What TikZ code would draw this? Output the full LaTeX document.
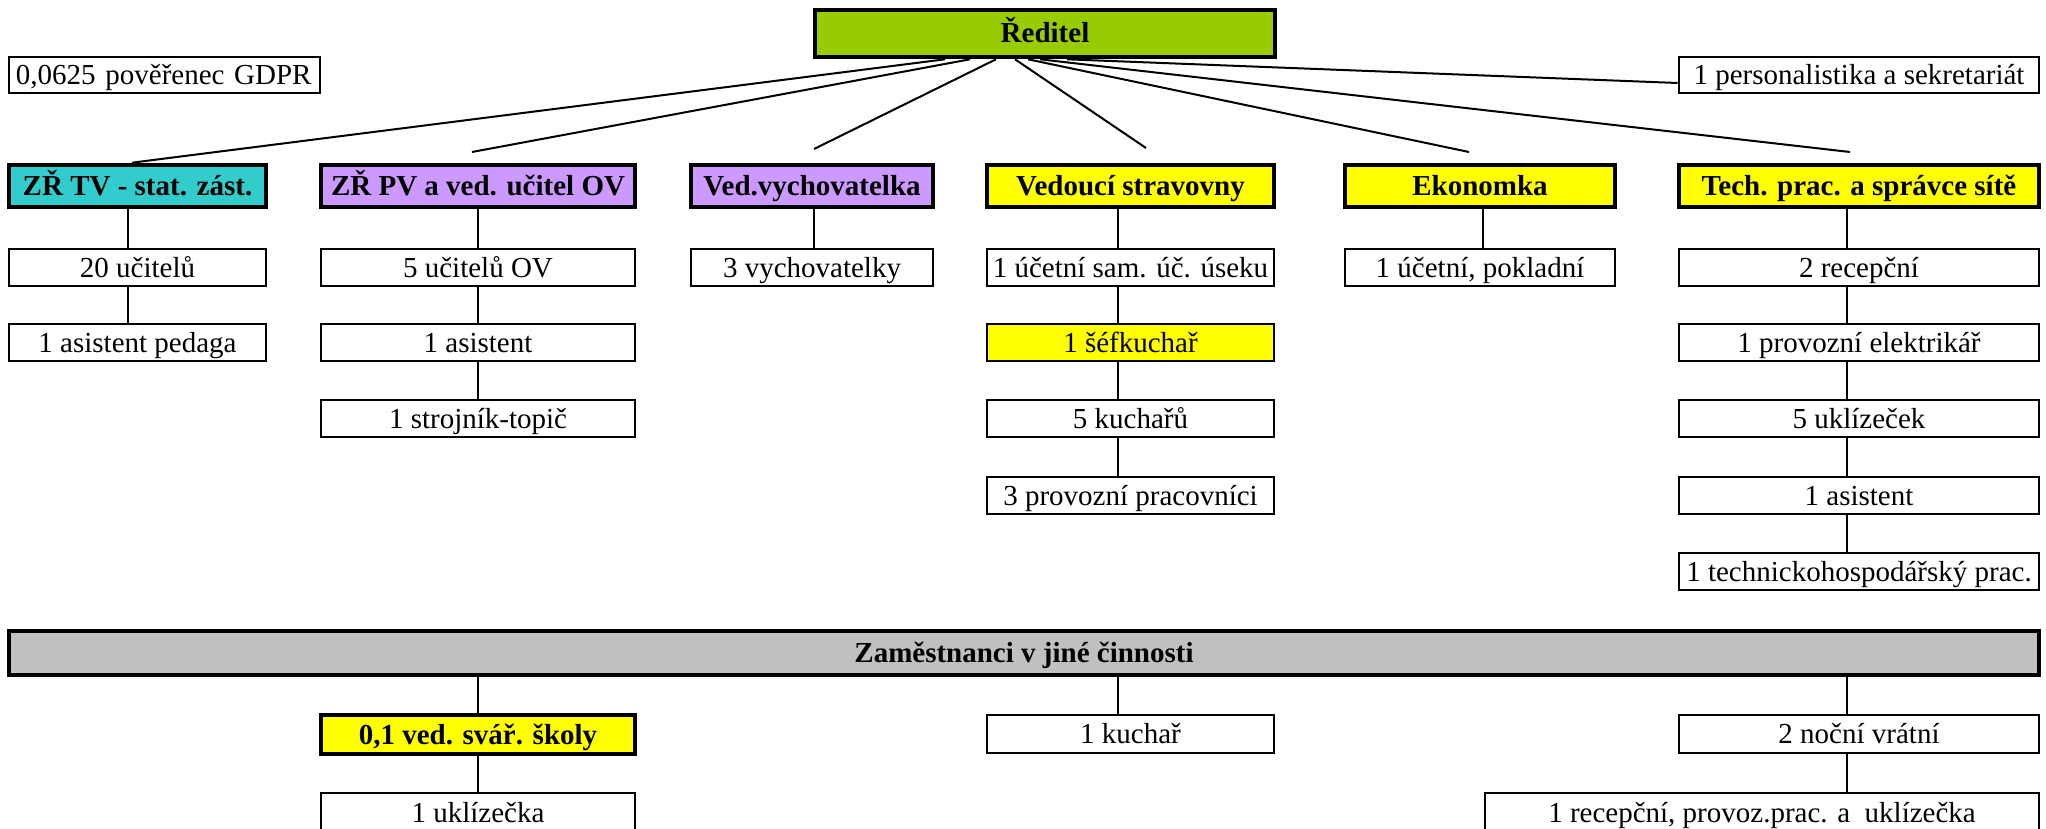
\documentclass[tikz,border=0pt]{standalone}
\usepackage{fontspec}
\setmainfont{Liberation Serif}
\usetikzlibrary{calc}
\definecolor{cgreen}{HTML}{99CC00}
\definecolor{cteal}{HTML}{33CCCC}
\definecolor{clav}{HTML}{CC99FF}
\definecolor{cyel}{HTML}{FFFF00}
\definecolor{cgray}{HTML}{C0C0C0}
\tikzset{
  base/.style={draw=black, inner sep=0pt, text height=19pt, text depth=0pt,
    font=\fontsize{29}{34}\selectfont},
  thinbox/.style={base, line width=2.6pt, fill=white},
  headbox/.style={base, line width=4.6pt, font=\fontsize{29}{34}\selectfont\bfseries},
  midbox/.style={base, line width=3.2pt, font=\fontsize{29}{34}\selectfont\bfseries},
  conn/.style={line width=2pt, black},
  vconn/.style={line width=2.6pt, black},
}
\newcommand\bx[7]{\node[#6, minimum width={#4pt-#2pt}, minimum height={#5pt-#3pt}] (#1) at ({(#2+#4)/2},{(#3+#5)/2}) {#7};}
\begin{document}
\begin{tikzpicture}[x=1pt,y=-1pt]
\useasboundingbox (0,0) rectangle (2046,829);
\clip (0,0) rectangle (2046,829);
\fill[white] (0,0) rectangle (2046,829);
% top
\bx{R}{815}{10}{1275}{57}{headbox, fill=cgreen}{Ředitel}
\bx{G}{9}{57}{320}{93}{thinbox, text width=297pt, align=left}{0,0625 pověřenec GDPR}
\bx{P}{1679}{57}{2039}{93}{thinbox}{1 personalistika a sekretariát}
% heads
\bx{A}{9}{165}{266}{207}{headbox, fill=cteal}{ZŘ TV - stat. zást.}
\bx{B}{321}{165}{635}{207}{headbox, fill=clav}{ZŘ PV a ved. učitel OV}
\bx{C}{691}{165}{933}{207}{headbox, fill=clav}{Ved.vychovatelka}
\bx{D}{987}{165}{1274}{207}{headbox, fill=cyel}{Vedoucí stravovny}
\bx{E}{1345}{165}{1615}{207}{headbox, fill=cyel}{Ekonomka}
\bx{F}{1679}{165}{2039}{207}{headbox, fill=cyel}{Tech. prac. a správce sítě}
% column A
\bx{a1}{9}{249}{266}{286}{thinbox}{20 učitelů}
\bx{a2}{9}{324}{266}{361}{thinbox}{1 asistent pedaga}
% column B
\bx{b1}{321}{249}{635}{286}{thinbox}{5 učitelů OV}
\bx{b2}{321}{324}{635}{361}{thinbox}{1 asistent}
\bx{b3}{321}{400}{635}{437}{thinbox}{1 strojník-topič}
% column C
\bx{c1}{691}{249}{933}{286}{thinbox}{3 vychovatelky}
% column D
\bx{d1}{987}{249}{1274}{286}{thinbox}{1 účetní sam. úč. úseku}
\bx{d2}{987}{324}{1274}{361}{thinbox, fill=cyel}{1 šéfkuchař}
\bx{d3}{987}{400}{1274}{437}{thinbox}{5 kuchařů}
\bx{d4}{987}{477}{1274}{514}{thinbox}{3 provozní pracovníci}
% column E
\bx{e1}{1345}{249}{1615}{286}{thinbox}{1 účetní, pokladní}
% column F
\bx{f1}{1679}{249}{2039}{286}{thinbox}{2 recepční}
\bx{f2}{1679}{324}{2039}{361}{thinbox}{1 provozní elektrikář}
\bx{f3}{1679}{400}{2039}{437}{thinbox}{5 uklízeček}
\bx{f4}{1679}{477}{2039}{514}{thinbox}{1 asistent}
\bx{f5}{1679}{553}{2039}{590}{thinbox}{1 technickohospodářský prac.}
% other activities
\bx{Z}{9}{631}{2039}{675}{headbox, fill=cgray}{Zaměstnanci v jiné činnosti}
\bx{g1}{321}{715}{635}{754}{midbox, fill=cyel}{0,1 ved. svář. školy}
\bx{g2}{987}{715}{1274}{753}{thinbox}{1 kuchař}
\bx{g3}{1679}{715}{2039}{753}{thinbox}{2 noční vrátní}
\bx{h1}{321}{793}{635}{832}{thinbox}{1 uklízečka}
\bx{h3}{1485}{793}{2039}{832}{thinbox}{1 recepční, provoz.prac. a\ \ uklízečka}
% free ends of the director's lines
\coordinate (tB) at (472,152);
\coordinate (tC) at (814,149);
\coordinate (tD) at (1146,148);
\coordinate (tE) at (1469,152);
\coordinate (tF) at (1850,152);
\draw[conn] ([xshift=-100pt]R.south) -- ([xshift=-5.5pt]A.north);
\draw[conn] ([xshift=-75pt]R.south) -- (tB);
\draw[conn] ([xshift=-49pt]R.south) -- (tC);
\draw[conn] ([xshift=-30pt]R.south) -- (tD);
\draw[conn] ([xshift=-17pt]R.south) -- (tE);
\draw[conn] ([xshift=-5pt]R.south) -- (tF);
\draw[conn] ([xshift=22pt]R.south) -- ([yshift=-8pt]P.west);
% vertical connectors
\draw[vconn] ([xshift=-9.5pt]A.south) -- ([xshift=-9.5pt]a1.north);
\draw[vconn] ([xshift=-9.5pt]a1.south) -- ([xshift=-9.5pt]a2.north);
\draw[vconn] (B.south) -- (b1.north);
\draw[vconn] (b1.south) -- (b2.north);
\draw[vconn] (b2.south) -- (b3.north);
\draw[vconn] ([xshift=2pt]C.south) -- ([xshift=2pt]c1.north);
\draw[vconn] ([xshift=-12.5pt]D.south) -- ([xshift=-12.5pt]d1.north);
\draw[vconn] ([xshift=-12.5pt]d1.south) -- ([xshift=-12.5pt]d2.north);
\draw[vconn] ([xshift=-12.5pt]d2.south) -- ([xshift=-12.5pt]d3.north);
\draw[vconn] ([xshift=-12.5pt]d3.south) -- ([xshift=-12.5pt]d4.north);
\draw[vconn] ([xshift=3pt]E.south) -- ([xshift=3pt]e1.north);
\draw[vconn] ([xshift=-12pt]F.south) -- ([xshift=-12pt]f1.north);
\draw[vconn] ([xshift=-12pt]f1.south) -- ([xshift=-12pt]f2.north);
\draw[vconn] ([xshift=-12pt]f2.south) -- ([xshift=-12pt]f3.north);
\draw[vconn] ([xshift=-12pt]f3.south) -- ([xshift=-12pt]f4.north);
\draw[vconn] ([xshift=-12pt]f4.south) -- ([xshift=-12pt]f5.north);
\draw[vconn] (g1.north |- Z.south) -- (g1.north);
\draw[vconn] ([xshift=-12.5pt]g2.north |- Z.south) -- ([xshift=-12.5pt]g2.north);
\draw[vconn] ([xshift=-12pt]g3.north |- Z.south) -- ([xshift=-12pt]g3.north);
\draw[vconn] (g1.south) -- (h1.north);
\draw[vconn] ([xshift=-12pt]g3.south) -- ([xshift=-12pt]g3.south |- h3.north);
\end{tikzpicture}
\end{document}
